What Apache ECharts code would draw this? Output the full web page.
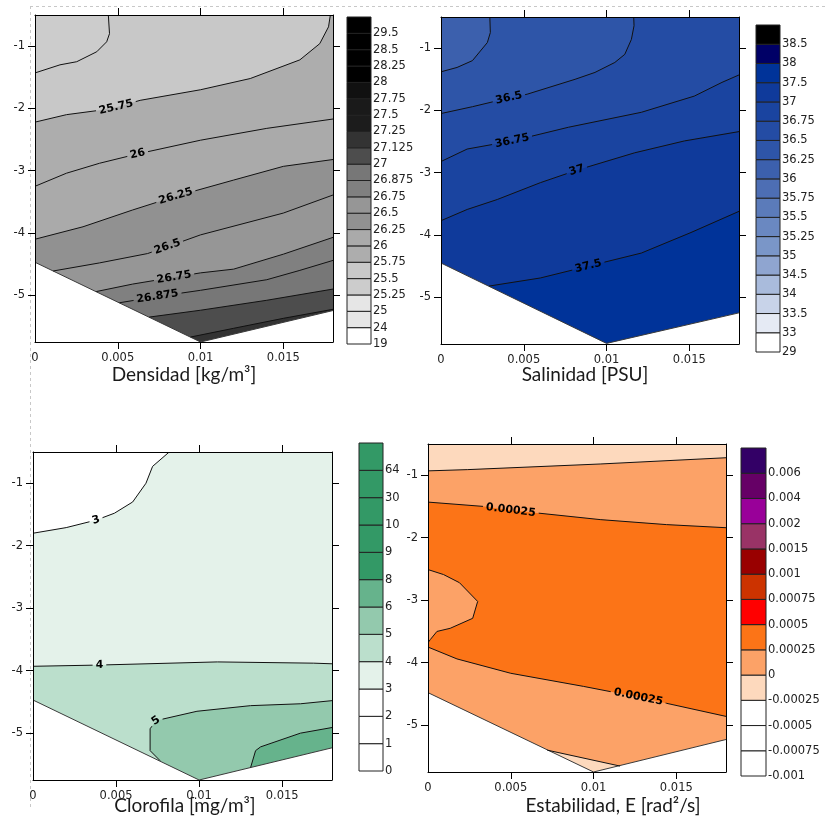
<!DOCTYPE html>
<html>
<head>
<meta charset="utf-8">
<script src="https://cdn.jsdelivr.net/npm/echarts@6/dist/echarts.min.js"></script>
<style>
  html, body { margin: 0; padding: 0; background: #ffffff; }
  #chart { width: 825px; height: 823px; }
</style>
</head>
<body>
<div id="chart"></div>
<script>
// ---- shared axes: horizontal value and depth ----
const xTickValues = [0, 0.005, 0.01, 0.015];
const xTickLabels = ['0', '0.005', '0.01', '0.015'];
const yTickValues = [-1, -2, -3, -4, -5];
const yTickLabels = ['-1', '-2', '-3', '-4', '-5'];
const xExtent = [0, 0.018];
const yExtent = [-5.75, -0.5];

// ---- Densidad ----
const densLevels = ['19', '24', '25', '25.25', '25.5', '25.75', '26', '26.25', '26.5', '26.75',
  '26.875', '27', '27.125', '27.25', '27.5', '27.75', '28', '28.25', '28.5', '29.5'];
const densColors = ['#ffffff', '#e6e6e6', '#e6e6e6', '#cccccc', '#c8c8c8', '#adadad', '#aaaaaa',
  '#919191', '#969696', '#808080', '#777777', '#4d4d4d', '#333333', '#1c1c1c', '#1a1a1a',
  '#111111', '#000000', '#000000', '#000000', '#000000'];
const densDomain = [[0, -4.47], [0.01, -5.75], [0.018, -5.245]];
const densIsolines = [
  { level: '25.5', label: null, pts: [[0.00443, -0.5], [0.0045, -0.8], [0.00433, -0.93], [0.00373, -1.09], [0.00252, -1.25], [0.00151, -1.3], [0, -1.43]] },
  { level: '25.75', label: 3, pts: [[0, -2.22], [0.0019, -2.1], [0.0039, -2.03], [0.0049, -1.98], [0.00635, -1.87], [0.01, -1.7], [0.013, -1.52], [0.016, -1.22], [0.0172, -0.96], [0.01773, -0.69], [0.01784, -0.5]] },
  { level: '26', label: 3, pts: [[0, -3.25], [0.0019, -3.04], [0.0039, -2.88], [0.0062, -2.73], [0.01, -2.51], [0.014, -2.32], [0.018, -2.17]] },
  { level: '26.25', label: 3, pts: [[0, -4.1], [0.0029, -3.9], [0.0059, -3.63], [0.0085, -3.41], [0.012, -3.15], [0.015, -2.93], [0.018, -2.82]] },
  { level: '26.5', label: 3, pts: [[0.0011, -4.61], [0.0039, -4.48], [0.0068, -4.33], [0.008, -4.22], [0.01, -4.03], [0.015, -3.68], [0.018, -3.39]] },
  { level: '26.75', label: 2, pts: [[0.0037, -4.94], [0.0059, -4.82], [0.0084, -4.71], [0.01, -4.64], [0.012, -4.58], [0.015, -4.34], [0.018, -4.07]] },
  { level: '26.875', label: 1, pts: [[0.0051, -5.12], [0.0074, -5.02], [0.01, -4.92], [0.014, -4.75], [0.016, -4.6], [0.018, -4.44]] },
  { level: '27', label: null, pts: [[0.0069, -5.35], [0.01, -5.24], [0.014, -5.08], [0.018, -4.9]] },
  { level: '27.125', label: null, pts: [[0.0094, -5.67], [0.012, -5.53], [0.015, -5.37], [0.018, -5.225]] }
];
const densRegions = [
  { band: '25.5', line: null, close: ['tl', 'tr', 'br', 'bl'] },
  { band: '25.25', line: 0, close: ['tl'] },
  { band: '25.75', line: 1, close: ['tr', 'br', 'bl'] },
  { band: '26', line: 2, close: ['br', 'bl'] },
  { band: '26.25', line: 3, close: ['br', 'bl'] },
  { band: '26.5', line: 4, close: ['br', 'bl'] },
  { band: '26.75', line: 5, close: ['br', 'bl'] },
  { band: '26.875', line: 6, close: ['br', 'bl'] },
  { band: '27', line: 7, close: ['br', 'bl'] },
  { band: '27.125', line: 8, close: ['br', 'bl'] }
];

// ---- Salinidad ----
const salLevels = ['29', '33', '33.5', '34', '34.5', '35', '35.25', '35.5', '35.75', '36',
  '36.25', '36.5', '36.75', '37', '37.5', '38', '38.5'];
const salColors = ['#ffffff', '#e5eaf4', '#c8d3e9', '#a9bbdc', '#8fa5d0', '#7a96c8', '#6a88c1',
  '#5b7bba', '#4d6eb4', '#3c60ad', '#2e55a8', '#244ca4', '#1a44a0', '#0f3a9b', '#003399',
  '#000066', '#000000'];
const salDomain = [[0, -4.45], [0.01, -5.74], [0.018, -5.25]];
const salIsolines = [
  { level: '36.25', label: null, pts: [[0.00295, -0.5], [0.00298, -0.75], [0.0028, -0.91], [0.0019, -1.2], [0.00097, -1.31], [0, -1.38]] },
  { level: '36.5', label: 2, pts: [[0, -2.05], [0.0019, -1.94], [0.0041, -1.8], [0.0052, -1.74], [0.0081, -1.5], [0.0093, -1.39], [0.0105, -1.23], [0.0111, -1.1], [0.0115, -0.86], [0.01166, -0.64], [0.01164, -0.5]] },
  { level: '36.75', label: 2, pts: [[0, -2.82], [0.00158, -2.62], [0.0043, -2.49], [0.0077, -2.27], [0.0121, -2.03], [0.0153, -1.77], [0.01697, -1.55], [0.018, -1.43]] },
  { level: '37', label: 4, pts: [[0, -3.77], [0.00158, -3.59], [0.0034, -3.43], [0.006, -3.16], [0.0082, -2.96], [0.0117, -2.68], [0.0147, -2.49], [0.018, -2.34]] },
  { level: '37.5', label: 2, pts: [[0.0029, -4.82], [0.006, -4.69], [0.0089, -4.5], [0.0121, -4.29], [0.0151, -3.96], [0.018, -3.62]] }
];
const salRegions = [
  { band: '36.25', line: null, close: ['tl', 'tr', 'br', 'bl'] },
  { band: '36', line: 0, close: ['tl'] },
  { band: '36.5', line: 1, close: ['tr', 'br', 'bl'] },
  { band: '36.75', line: 2, close: ['br', 'bl'] },
  { band: '37', line: 3, close: ['br', 'bl'] },
  { band: '37.5', line: 4, close: ['br', 'bl'] }
];

// ---- Clorofila ----
const chlLevels = ['0', '1', '2', '3', '4', '5', '6', '8', '9', '10', '30', '64'];
const chlColors = ['#ffffff', '#ffffff', '#ffffff', '#e4f2ea', '#bbdfcc', '#93c9ad', '#66b38c',
  '#339966', '#339966', '#339966', '#339966', '#339966'];
const chlDomain = [[0, -4.47], [0.01, -5.75], [0.018, -5.235]];
const chlIsolines = [
  { level: '3', label: 2, pts: [[0, -1.8], [0.002, -1.71], [0.0038, -1.59], [0.0049, -1.48], [0.006, -1.3], [0.0068, -1.0], [0.0072, -0.73], [0.0082, -0.5]] },
  { level: '4', label: 1, pts: [[0, -3.93], [0.004, -3.91], [0.0111, -3.86], [0.0169, -3.88], [0.018, -3.89]] },
  { level: '5', label: 3, pts: [[0.00765, -5.44], [0.00705, -5.28], [0.00705, -4.93], [0.0074, -4.8], [0.00987, -4.65], [0.0131, -4.56], [0.0161, -4.53], [0.018, -4.48]] },
  { level: '6', label: null, pts: [[0.0131, -5.55], [0.0134, -5.28], [0.0137, -5.22], [0.0161, -5.0], [0.018, -4.91]] }
];
const chlRegions = [
  { band: '3', line: null, close: ['tl', 'tr', 'br', 'bl'] },
  { band: '2', line: 0, close: ['tl'] },
  { band: '4', line: 1, close: ['br', 'bl'] },
  { band: '5', line: 2, close: ['br', 'bl'] },
  { band: '6', line: 3, close: ['br'] }
];

// ---- Estabilidad ----
const stabLevels = ['-0.001', '-0.00075', '-0.0005', '-0.00025', '0', '0.00025', '0.0005',
  '0.00075', '0.001', '0.0015', '0.002', '0.004', '0.006'];
const stabColors = ['#ffffff', '#ffffff', '#ffffff', '#fdd9bd', '#fca267', '#fc7417', '#ff0000',
  '#cc3300', '#990000', '#993366', '#990099', '#660066', '#330066'];
const stabDomain = [[0, -4.48], [0.01, -5.75], [0.018, -5.23]];
const stabIsolines = [
  { level: '0', label: null, pts: [[0, -0.93], [0.0024, -0.91], [0.0104, -0.82], [0.018, -0.72]] },
  { level: '0.00025', label: 2, pts: [[0, -1.43], [0.0034, -1.5], [0.005, -1.56], [0.0104, -1.71], [0.0144, -1.79], [0.018, -1.84]] },
  { level: '0.00025', label: null, pts: [[0, -2.51], [0.00094, -2.59], [0.0019, -2.72], [0.003, -3.02], [0.0027, -3.29], [0.00134, -3.45], [0.00054, -3.5], [0.00014, -3.63], [0, -3.68]] },
  { level: '0.00025', label: 4, pts: [[0, -3.75], [0.00175, -3.94], [0.005, -4.17], [0.0094, -4.38], [0.0127, -4.55], [0.0144, -4.65], [0.018, -4.86]] },
  { level: '0', label: null, pts: [[0.0072, -5.4], [0.0116, -5.655]] }
];
const stabRegions = [
  { band: '-0.00025', line: null, close: ['tl', 'tr', 'br', 'bl'] },
  { band: '0', line: 0, close: ['br', 'bl'] },
  { band: '0.00025', line: 1, close: ['br', 'bl'] },
  { band: '0', line: 2, close: [] },
  { band: '0', line: 3, close: ['br', 'bl'] },
  { band: '-0.00025', line: 4, close: ['br', 'bl'] }
];

// ---- layout of the four sections ----
const panels = [
  { title: 'Densidad [kg/m³]', titlePos: [184, 375], levels: densLevels, colors: densColors, domain: densDomain, lines: densIsolines, regions: densRegions,
    grid: { left: 35, top: 15, width: 298, height: 327 }, bar: { left: 347, top: 17, width: 24, height: 327 } },
  { title: 'Salinidad [PSU]', titlePos: [585, 375], levels: salLevels, colors: salColors, domain: salDomain, lines: salIsolines, regions: salRegions,
    grid: { left: 441, top: 17, width: 298, height: 327 }, bar: { left: 756, top: 25, width: 24, height: 327 } },
  { title: 'Clorofila [mg/m³]', titlePos: [185, 806], levels: chlLevels, colors: chlColors, domain: chlDomain, lines: chlIsolines, regions: chlRegions,
    grid: { left: 33, top: 452, width: 299, height: 328 }, bar: { left: 359, top: 443, width: 24, height: 328 } },
  { title: 'Estabilidad, E [rad²/s]', titlePos: [613, 806], levels: stabLevels, colors: stabColors, domain: stabDomain, lines: stabIsolines, regions: stabRegions,
    grid: { left: 428, top: 444, width: 298, height: 328 }, bar: { left: 741, top: 448, width: 25, height: 328 } }
];

const CORNERS = {
  tl: [xExtent[0], yExtent[1]], tr: [xExtent[1], yExtent[1]],
  br: [xExtent[1], yExtent[0]], bl: [xExtent[0], yExtent[0]]
};
const TICK_FONT = '"DejaVu Sans", sans-serif';
const LABEL_FONT = 'bold 11px "DejaVu Sans", sans-serif';
const measureCtx = document.createElement('canvas').getContext('2d');

function bandColor(panel, band) {
  return panel.colors[panel.levels.indexOf(band)];
}

// Split a pixel polyline around vertex idx, leaving a gap of +-half along its length.
function splitAround(points, idx, half) {
  const cum = [0];
  for (let i = 1; i < points.length; i++) {
    cum.push(cum[i - 1] + Math.hypot(points[i][0] - points[i - 1][0], points[i][1] - points[i - 1][1]));
  }
  const total = cum[cum.length - 1];
  const at = (s) => {
    s = Math.max(0, Math.min(total, s));
    for (let i = 1; i < points.length; i++) {
      if (cum[i] >= s) {
        const t = (s - cum[i - 1]) / ((cum[i] - cum[i - 1]) || 1);
        return [points[i - 1][0] + t * (points[i][0] - points[i - 1][0]),
                points[i - 1][1] + t * (points[i][1] - points[i - 1][1])];
      }
    }
    return points[points.length - 1];
  };
  const c = cum[idx], a = c - half, b = c + half;
  const first = [], second = [];
  for (let i = 0; i < points.length; i++) if (cum[i] < a) first.push(points[i]);
  if (a > 0) first.push(at(a));
  if (b < total) second.push(at(b));
  for (let i = 0; i < points.length; i++) if (cum[i] > b) second.push(points[i]);
  const pa = at(a), pb = at(b);
  let ang = Math.atan2(-(pb[1] - pa[1]), pb[0] - pa[0]);
  if (ang > Math.PI / 2) ang -= Math.PI;
  if (ang < -Math.PI / 2) ang += Math.PI;
  return { segments: [first, second].filter(s => s.length > 1), center: points[idx], angle: ang };
}

const grids = [], xAxes = [], yAxes = [], series = [], graphics = [];

panels.forEach((p, k) => {
  grids.push(Object.assign({ containLabel: false }, p.grid));
});
panels.forEach((p, k) => {
  grids.push(Object.assign({ containLabel: false }, p.bar));
});

panels.forEach((p, k) => {
  const frameLine = { show: true, onZero: false, lineStyle: { color: '#000', width: 1 } };
  const tickStyle = { color: '#000', width: 1 };
  xAxes.push({
    gridIndex: k, type: 'value', position: 'bottom', min: xExtent[0], max: xExtent[1], z: 10,
    axisLine: frameLine,
    axisTick: { show: true, length: 7, customValues: xTickValues.slice(1), lineStyle: tickStyle },
    axisLabel: { customValues: xTickValues, formatter: v => xTickLabels[xTickValues.indexOf(v)] ?? '',
      fontFamily: TICK_FONT, fontSize: 11.5, color: '#222', margin: 10 },
    splitLine: { show: false }
  });
  xAxes.push({
    gridIndex: k, type: 'value', position: 'top', min: xExtent[0], max: xExtent[1], z: 10,
    axisLine: frameLine,
    axisTick: { show: true, length: 7, customValues: xTickValues.slice(1), lineStyle: tickStyle },
    axisLabel: { show: false }, splitLine: { show: false }
  });
  yAxes.push({
    gridIndex: k, type: 'value', position: 'left', min: yExtent[0], max: yExtent[1], z: 10,
    axisLine: frameLine,
    axisTick: { show: true, length: 7, customValues: yTickValues, lineStyle: tickStyle },
    axisLabel: { customValues: yTickValues, formatter: v => yTickLabels[yTickValues.indexOf(v)] ?? '',
      fontFamily: TICK_FONT, fontSize: 11.5, color: '#222', margin: 10 },
    splitLine: { show: false }
  });
  yAxes.push({
    gridIndex: k, type: 'value', position: 'right', min: yExtent[0], max: yExtent[1], z: 10,
    axisLine: frameLine,
    axisTick: { show: true, length: 7, customValues: yTickValues, lineStyle: tickStyle },
    axisLabel: { show: false }, splitLine: { show: false }
  });
});

// colour bar axes
panels.forEach((p, k) => {
  const n = p.levels.length;
  const idx = p.levels.map((_, i) => i);
  xAxes.push({ gridIndex: 4 + k, type: 'value', min: 0, max: 1, show: false });
  yAxes.push({
    gridIndex: 4 + k, type: 'value', position: 'right', min: 0, max: n,
    axisLine: { show: false }, axisTick: { show: false }, splitLine: { show: false },
    axisLabel: { customValues: idx, formatter: v => p.levels[Math.round(v)] ?? '',
      fontFamily: TICK_FONT, fontSize: 11.5, color: '#222', margin: 2 }
  });
});

panels.forEach((p, k) => {
  const xi = 2 * k, yi = 2 * k;
  // filled bands, painted from the top band downwards
  series.push({
    type: 'custom', xAxisIndex: xi, yAxisIndex: yi, clip: true, silent: true, z: 2,
    data: p.regions.map((r, i) => [i]),
    renderItem(params, api) {
      const r = p.regions[params.dataIndex];
      const pts = (r.line == null ? [] : p.lines[r.line].pts).concat(r.close.map(c => CORNERS[c]));
      return {
        type: 'polygon', z2: params.dataIndex,
        shape: { points: pts.map(q => api.coord(q)) },
        style: { fill: bandColor(p, r.band), stroke: null }
      };
    }
  });
  // area without data below the bottom profile
  series.push({
    type: 'custom', xAxisIndex: xi, yAxisIndex: yi, clip: true, silent: true, z: 3,
    data: [[0]],
    renderItem(params, api) {
      const outline = p.domain.map(q => api.coord(q));
      const mask = p.domain.concat([CORNERS.br, CORNERS.bl]).map(q => api.coord(q));
      return {
        type: 'group', children: [
          { type: 'polygon', shape: { points: mask }, style: { fill: '#ffffff', stroke: null } },
          { type: 'polyline', shape: { points: outline }, style: { stroke: '#3a3a3a', lineWidth: 1, fill: null } }
        ]
      };
    }
  });
  // isolines with their inline labels
  series.push({
    type: 'custom', xAxisIndex: xi, yAxisIndex: yi, clip: true, silent: true, z: 4,
    data: p.lines.map((l, i) => [i]),
    renderItem(params, api) {
      const ln = p.lines[params.dataIndex];
      const px = ln.pts.map(q => api.coord(q));
      const children = [];
      let segments = [px];
      if (ln.label != null) {
        measureCtx.font = LABEL_FONT;
        const half = measureCtx.measureText(ln.level).width / 2 + 3;
        const res = splitAround(px, ln.label, half);
        segments = res.segments;
        children.push({
          type: 'text', x: res.center[0], y: res.center[1], rotation: res.angle, z2: 20,
          style: { text: ln.level, font: LABEL_FONT, fill: '#000', align: 'center', verticalAlign: 'middle' }
        });
      }
      segments.forEach(s => children.push({
        type: 'polyline', z2: 10, shape: { points: s },
        style: { stroke: '#111', lineWidth: 1, fill: null }
      }));
      return { type: 'group', children };
    }
  });
  // colour bar
  series.push({
    type: 'custom', xAxisIndex: 8 + k, yAxisIndex: 8 + k, silent: true, z: 2,
    data: p.colors.map((c, i) => [0.5, i + 0.5]),
    renderItem(params, api) {
      const i = params.dataIndex;
      const a = api.coord([0, i + 1]), b = api.coord([1, i]);
      return {
        type: 'rect',
        shape: { x: a[0], y: a[1], width: b[0] - a[0], height: b[1] - a[1] },
        style: { fill: p.colors[i], stroke: '#222', lineWidth: 1 }
      };
    }
  });
  graphics.push({
    type: 'text', x: p.titlePos[0], y: p.titlePos[1], silent: true,
    style: { text: p.title, font: '19px Lato, "Open Sans", sans-serif', fill: '#1a1a1a', align: 'center', verticalAlign: 'middle' }
  });
});

// light dashed page guides
graphics.push({ type: 'line', silent: true, shape: { x1: 30.5, y1: 6, x2: 30.5, y2: 808 },
  style: { stroke: '#c8c8c8', lineWidth: 1, lineDash: [3, 3] } });
graphics.push({ type: 'line', silent: true, shape: { x1: 30, y1: 6.5, x2: 825, y2: 6.5 },
  style: { stroke: '#c8c8c8', lineWidth: 1, lineDash: [3, 3] } });

const chart = echarts.init(document.getElementById('chart'), null, { renderer: 'canvas' });
chart.setOption({
  animation: false,
  backgroundColor: '#ffffff',
  grid: grids,
  xAxis: xAxes,
  yAxis: yAxes,
  series: series,
  graphic: graphics
});
</script>
</body>
</html>
